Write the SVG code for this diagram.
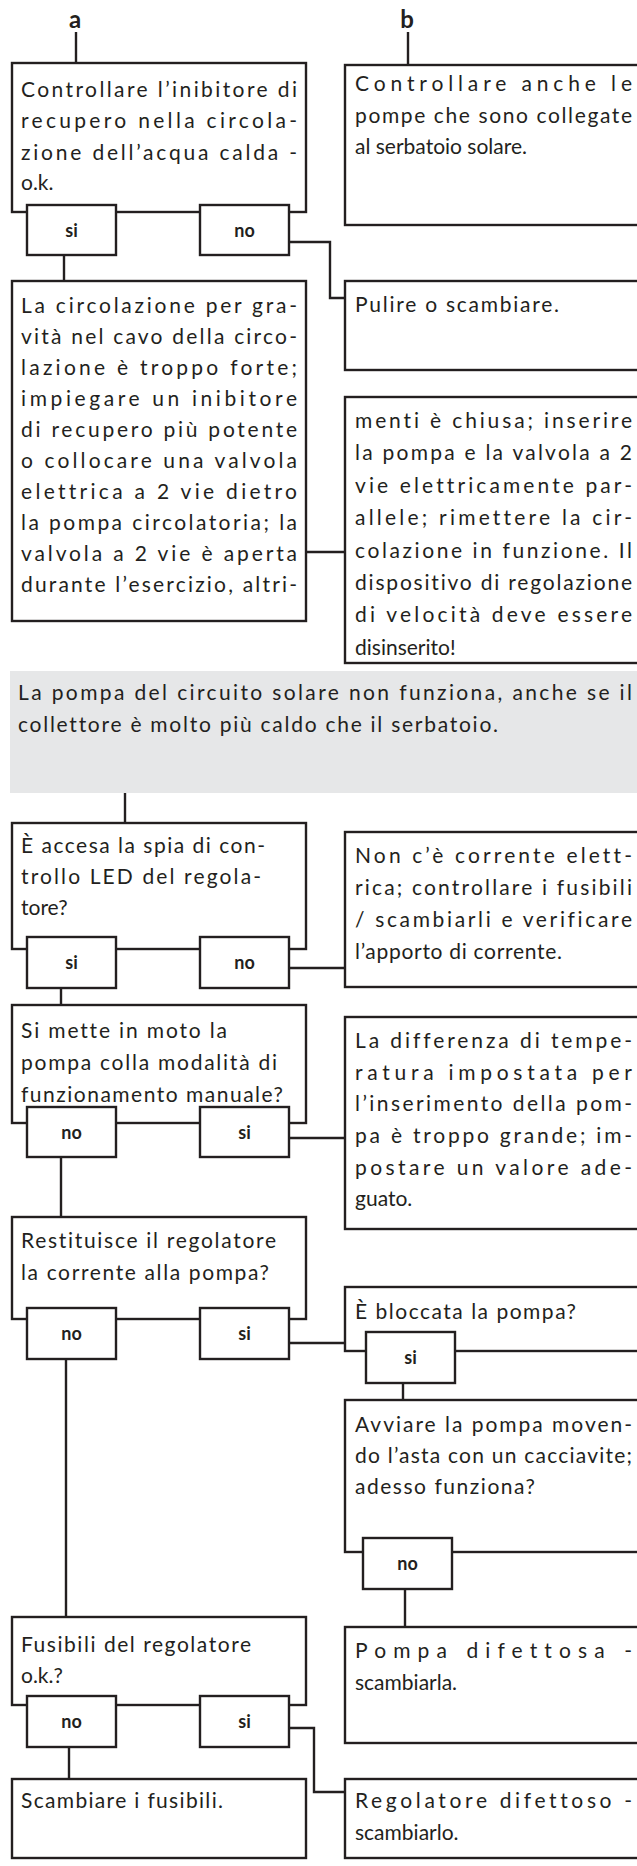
<svg xmlns="http://www.w3.org/2000/svg" width="637" height="1866" viewBox="0 0 637 1866">
<style>
.box{fill:#fff;stroke:#231f20;stroke-width:2.4}
.lbx{fill:#fff;stroke:#231f20;stroke-width:2.4}
.t{font-family:Lato,"Liberation Sans",sans-serif;font-size:21px;fill:#231f20;font-variant-ligatures:none;font-feature-settings:"liga" 0,"clig" 0}
.lb{font-family:Lato,"Liberation Sans",sans-serif;font-size:18px;font-weight:bold;fill:#231f20;text-anchor:middle}
.hd{font-family:Lato,"Liberation Sans",sans-serif;font-size:24px;font-weight:bold;fill:#231f20;text-anchor:middle}
.c{fill:none;stroke:#231f20;stroke-width:2.4}
</style>
<rect width="637" height="1866" fill="#fff"/>
<g id="connectors">
<path class="c" d="M76 32V63"/>
<path class="c" d="M408 32V65"/>
<path class="c" d="M289 242H330V298H345"/>
<path class="c" d="M64 255V281"/>
<path class="c" d="M306 552H345"/>
<path class="c" d="M125 793V823"/>
<path class="c" d="M289 968H345"/>
<path class="c" d="M61 988V1005"/>
<path class="c" d="M289 1138H345"/>
<path class="c" d="M61 1157V1217"/>
<path class="c" d="M289 1343H345"/>
<path class="c" d="M66 1359V1617"/>
<path class="c" d="M403 1383V1400"/>
<path class="c" d="M405 1589V1627"/>
<path class="c" d="M289 1728H314V1792H345"/>
<path class="c" d="M69 1747V1779"/>
</g>
<g id="label-a"><text class="hd" x="75" y="28">a</text></g>
<g id="label-b"><text class="hd" x="407" y="28">b</text></g>
<g id="n-a1">
<rect class="box" x="12" y="63" width="294" height="149"/>
<text class="t" x="21" y="97" textLength="276">Controllare l’inibitore di</text>
<text class="t" x="21" y="128" textLength="276">recupero nella circola-</text>
<text class="t" x="21" y="160" textLength="276">zione dell’acqua calda -</text>
<text class="t" x="21" y="190">o.k.</text>
<rect class="lbx" x="27" y="205" width="89" height="50"/><text class="lb" x="71.5" y="237">si</text>
<rect class="lbx" x="200" y="205" width="89" height="50"/><text class="lb" x="244.5" y="237">no</text>
</g>
<g id="n-b1">
<rect class="box" x="345" y="65" width="300" height="160"/>
<text class="t" x="355" y="91" textLength="277">Controllare anche le</text>
<text class="t" x="355" y="123" textLength="277">pompe che sono collegate</text>
<text class="t" x="355" y="154">al serbatoio solare.</text>
</g>
<g id="n-b2">
<rect class="box" x="345" y="281" width="300" height="89"/>
<text class="t" x="355" y="312" textLength="204">Pulire o scambiare.</text>
</g>
<g id="n-a2">
<rect class="box" x="12" y="281" width="294" height="340"/>
<text class="t" x="21" y="313" textLength="276">La circolazione per gra-</text>
<text class="t" x="21" y="344" textLength="276">vità nel cavo della circo-</text>
<text class="t" x="21" y="375" textLength="276">lazione è troppo forte;</text>
<text class="t" x="21" y="406" textLength="276">impiegare un inibitore</text>
<text class="t" x="21" y="437" textLength="276">di recupero più potente</text>
<text class="t" x="21" y="468" textLength="276">o collocare una valvola</text>
<text class="t" x="21" y="499" textLength="276">elettrica a 2 vie dietro</text>
<text class="t" x="21" y="530" textLength="276">la pompa circolatoria; la</text>
<text class="t" x="21" y="561" textLength="276">valvola a 2 vie è aperta</text>
<text class="t" x="21" y="592" textLength="276">durante l’esercizio, altri-</text>
</g>
<g id="n-b3">
<rect class="box" x="345" y="397" width="300" height="266"/>
<text class="t" x="355" y="428" textLength="277">menti è chiusa; inserire</text>
<text class="t" x="355" y="460" textLength="277">la pompa e la valvola a 2</text>
<text class="t" x="355" y="493" textLength="277">vie elettricamente par-</text>
<text class="t" x="355" y="525" textLength="277">allele; rimettere la cir-</text>
<text class="t" x="355" y="558" textLength="277">colazione in funzione. Il</text>
<text class="t" x="355" y="590" textLength="277">dispositivo di regolazione</text>
<text class="t" x="355" y="622" textLength="277">di velocità deve essere</text>
<text class="t" x="355" y="655">disinserito!</text>
</g>
<g id="n-title">
<rect x="10" y="671" width="640" height="122" fill="#e6e7e8"/>
<text class="t" x="18" y="700" textLength="614">La pompa del circuito solare non funziona, anche se il</text>
<text class="t" x="18" y="732" textLength="480">collettore è molto più caldo che il serbatoio.</text>
</g>
<g id="n-a3">
<rect class="box" x="12" y="823" width="294" height="126"/>
<text class="t" x="21" y="853" textLength="244">È accesa la spia di con-</text>
<text class="t" x="21" y="884" textLength="240">trollo LED del regola-</text>
<text class="t" x="21" y="915">tore?</text>
<rect class="lbx" x="27" y="937" width="89" height="51"/><text class="lb" x="71.5" y="969">si</text>
<rect class="lbx" x="200" y="937" width="89" height="51"/><text class="lb" x="244.5" y="969">no</text>
</g>
<g id="n-b4">
<rect class="box" x="345" y="832" width="300" height="155"/>
<text class="t" x="355" y="863" textLength="277">Non c’è corrente elett-</text>
<text class="t" x="355" y="895" textLength="277">rica; controllare i fusibili</text>
<text class="t" x="355" y="927" textLength="277">/ scambiarli e verificare</text>
<text class="t" x="355" y="959" textLength="207">l’apporto di corrente.</text>
</g>
<g id="n-a4">
<rect class="box" x="12" y="1005" width="294" height="118"/>
<text class="t" x="21" y="1038" textLength="206">Si mette in moto la</text>
<text class="t" x="21" y="1070" textLength="256">pompa colla modalità di</text>
<text class="t" x="21" y="1102" textLength="262">funzionamento manuale?</text>
<rect class="lbx" x="27" y="1107" width="89" height="50"/><text class="lb" x="71.5" y="1139">no</text>
<rect class="lbx" x="200" y="1107" width="89" height="50"/><text class="lb" x="244.5" y="1139">si</text>
</g>
<g id="n-b5">
<rect class="box" x="345" y="1017" width="300" height="212"/>
<text class="t" x="355" y="1048" textLength="277">La differenza di tempe-</text>
<text class="t" x="355" y="1080" textLength="277">ratura impostata per</text>
<text class="t" x="355" y="1111" textLength="277">l’inserimento della pom-</text>
<text class="t" x="355" y="1143" textLength="277">pa è troppo grande; im-</text>
<text class="t" x="355" y="1175" textLength="277">postare un valore ade-</text>
<text class="t" x="355" y="1206">guato.</text>
</g>
<g id="n-a5">
<rect class="box" x="12" y="1217" width="294" height="102"/>
<text class="t" x="21" y="1248" textLength="255">Restituisce il regolatore</text>
<text class="t" x="21" y="1280" textLength="248">la corrente alla pompa?</text>
<rect class="lbx" x="27" y="1308" width="89" height="51"/><text class="lb" x="71.5" y="1340">no</text>
<rect class="lbx" x="200" y="1308" width="89" height="51"/><text class="lb" x="244.5" y="1340">si</text>
</g>
<g id="n-b6">
<rect class="box" x="345" y="1287" width="300" height="64"/>
<text class="t" x="355" y="1319" textLength="221">È bloccata la pompa?</text>
<rect class="lbx" x="366" y="1332" width="89" height="51"/><text class="lb" x="410.5" y="1364">si</text>
</g>
<g id="n-b7">
<rect class="box" x="345" y="1400" width="300" height="152"/>
<text class="t" x="355" y="1432" textLength="277">Avviare la pompa moven-</text>
<text class="t" x="355" y="1463" textLength="277">do l’asta con un cacciavite;</text>
<text class="t" x="355" y="1494" textLength="180">adesso funziona?</text>
<rect class="lbx" x="363" y="1538" width="89" height="51"/><text class="lb" x="407.5" y="1570">no</text>
</g>
<g id="n-b8">
<rect class="box" x="345" y="1627" width="300" height="116"/>
<text class="t" x="355" y="1658" textLength="277">Pompa difettosa -</text>
<text class="t" x="355" y="1690">scambiarla.</text>
</g>
<g id="n-a6">
<rect class="box" x="12" y="1617" width="294" height="88"/>
<text class="t" x="21" y="1652" textLength="230">Fusibili del regolatore</text>
<text class="t" x="21" y="1683">o.k.?</text>
<rect class="lbx" x="27" y="1696" width="89" height="51"/><text class="lb" x="71.5" y="1728">no</text>
<rect class="lbx" x="200" y="1696" width="89" height="51"/><text class="lb" x="244.5" y="1728">si</text>
</g>
<g id="n-a7">
<rect class="box" x="12" y="1779" width="294" height="79"/>
<text class="t" x="21" y="1808" textLength="202">Scambiare i fusibili.</text>
</g>
<g id="n-b9">
<rect class="box" x="345" y="1779" width="300" height="79"/>
<text class="t" x="355" y="1808" textLength="277">Regolatore difettoso -</text>
<text class="t" x="355" y="1840">scambiarlo.</text>
</g>
</svg>
